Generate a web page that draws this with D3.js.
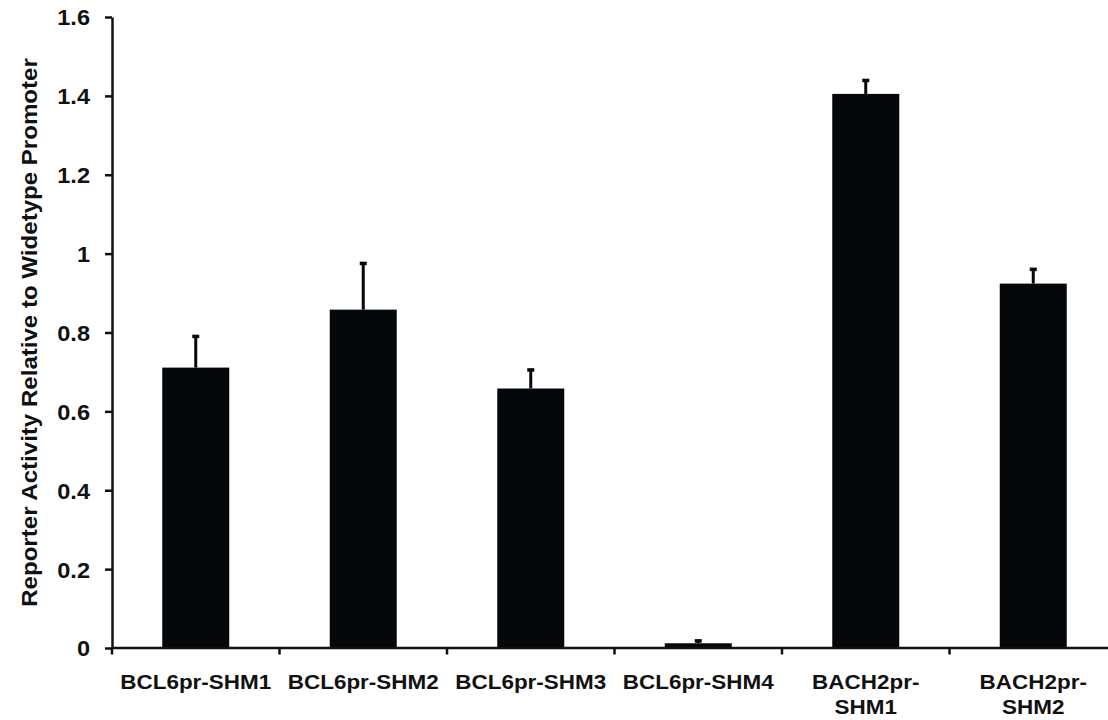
<!DOCTYPE html>
<html>
<head>
<meta charset="utf-8">
<script src="https://cdn.jsdelivr.net/npm/d3@7"></script>
<style>
  html, body { margin: 0; padding: 0; background: #fff; }
  text { font-family: "Liberation Sans", Arial, sans-serif; font-weight: bold; fill: #111; }
</style>
</head>
<body>
<div id="viz"></div>
<script>
const categories = [
  ["BCL6pr-SHM1"],
  ["BCL6pr-SHM2"],
  ["BCL6pr-SHM3"],
  ["BCL6pr-SHM4"],
  ["BACH2pr-", "SHM1"],
  ["BACH2pr-", "SHM2"]
]
const values = [0.711, 0.858, 0.658, 0.012, 1.405, 0.924]
const errors = [0.081, 0.119, 0.049, 0.008, 0.036, 0.038]
const yTicks = [0, 0.2, 0.4, 0.6, 0.8, 1, 1.2, 1.4, 1.6]
const yTickLabels = ["0", "0.2", "0.4", "0.6", "0.8", "1", "1.2", "1.4", "1.6"]
const yTitle = "Reporter Activity Relative to Widetype Promoter"

const W = 1108, H = 720
const plotLeft = 112, plotTop = 17, base = 648
const stretch = 1.07

const svg = d3.select("#viz").append("svg").attr("width", W).attr("height", H)

const y = d3.scaleLinear().domain([0, 1.6]).range([base, plotTop])
const x = d3.scaleBand()
  .domain(d3.range(categories.length))
  .range([plotLeft, plotLeft + 6 * 167.5])
  .paddingInner(0.6)
  .paddingOuter(0.3)

// bars
svg.selectAll(".bar")
  .data(values)
  .enter()
  .append("rect")
  .attr("class", "bar")
  .attr("x", (d, i) => x(i))
  .attr("y", d => y(d))
  .attr("width", x.bandwidth())
  .attr("height", d => base - y(d))
  .attr("fill", "#05080b")

// error bars (upper only)
const eb = svg.selectAll(".err")
  .data(values)
  .enter()
  .append("g")
  .attr("class", "err")
  .attr("transform", (d, i) => `translate(${x(i) + x.bandwidth() / 2},0)`)
eb.append("line")
  .attr("y1", d => y(d))
  .attr("y2", (d, i) => y(d + errors[i]))
  .attr("stroke", "#05080b")
  .attr("stroke-width", 3)
eb.append("rect")
  .attr("x", -3.5)
  .attr("y", (d, i) => y(d + errors[i]) - 1)
  .attr("width", 7)
  .attr("height", 3.5)
  .attr("fill", "#05080b")

// x axis line + ticks at slot boundaries
const step = x.step()
svg.append("line")
  .attr("x1", plotLeft).attr("x2", W)
  .attr("y1", base).attr("y2", base)
  .attr("stroke", "#111").attr("stroke-width", 2.5)
svg.selectAll(".xtick")
  .data(d3.range(categories.length + 1))
  .enter()
  .append("line")
  .attr("class", "xtick")
  .attr("x1", i => x(0) - step * 0.3 + i * step)
  .attr("x2", i => x(0) - step * 0.3 + i * step)
  .attr("y1", base)
  .attr("y2", base + 6.5)
  .attr("stroke", "#111").attr("stroke-width", 2.5)

// x labels
const xl = svg.selectAll(".xlabel")
  .data(categories)
  .enter()
  .append("text")
  .attr("class", "xlabel")
  .attr("text-anchor", "middle")
  .attr("font-size", 21)
  .attr("transform", (d, i) => `translate(${x(i) + x.bandwidth() / 2},689) scale(${stretch},1)`)
xl.selectAll("tspan")
  .data(d => d)
  .enter()
  .append("tspan")
  .attr("x", 0)
  .attr("dy", (d, j) => j === 0 ? 0 : 25)
  .text(d => d)

// y axis
const yAxis = d3.axisLeft(y)
  .tickValues(yTicks)
  .tickFormat((d, i) => yTickLabels[i])
  .tickSize(7)
  .tickSizeOuter(0)
const gy = svg.append("g")
  .attr("transform", `translate(${plotLeft},0)`)
  .call(yAxis)
gy.attr("font-family", null).attr("font-size", null)
gy.select(".domain").attr("stroke", "#111").attr("stroke-width", 2.5)
gy.selectAll(".tick line").attr("stroke", "#111").attr("stroke-width", 2.5)
gy.selectAll(".tick text")
  .attr("x", 0)
  .attr("dy", "0.36em")
  .attr("font-size", 22)
  .attr("fill", "#111")
  .attr("transform", `translate(-22,0) scale(${stretch},1)`)

// y title
svg.append("text")
  .attr("text-anchor", "middle")
  .attr("font-size", 22.5)
  .attr("transform", `translate(37,${(base + plotTop) / 2}) rotate(-90) scale(${stretch},1)`)
  .text(yTitle)
</script>
</body>
</html>
